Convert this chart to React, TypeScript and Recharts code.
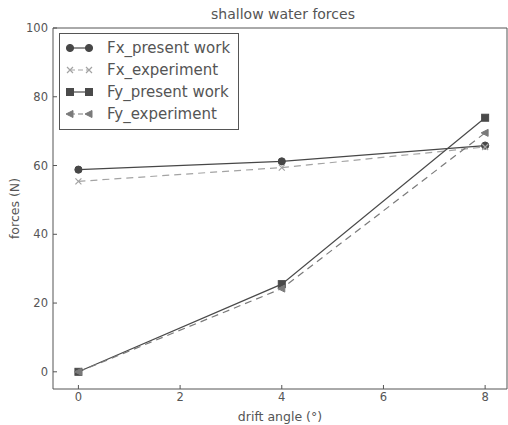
import { LineChart, Line, XAxis, YAxis, Legend } from "recharts";

// drift angle (deg) and forces (N)
const ANGLES = [0, 4, 8];
const FX_PRESENT = [58.8, 61.2, 65.8];
const FX_EXPERIMENT = [55.4, 59.4, 65.4];
const FY_PRESENT = [0, 25.5, 73.9];
const FY_EXPERIMENT = [0, 24.2, 69.5];

const X_TICKS = [0, 2, 4, 6, 8];
const Y_TICKS = [0, 20, 40, 60, 80, 100];

const FONT = "'DejaVu Sans', Verdana, sans-serif";
const TEXT = "#555";
const FRAME = "#555";

type Shape = "circle" | "x" | "square" | "tri";

interface SeriesDef {
  key: string;
  name: string;
  color: string;
  dash?: string;
  shape: Shape;
}

const SERIES: SeriesDef[] = [
  { key: "fxPresent", name: "Fx_present work", color: "#474747", shape: "circle" },
  { key: "fxExperiment", name: "Fx_experiment", color: "#a3a3a3", dash: "7 5", shape: "x" },
  { key: "fyPresent", name: "Fy_present work", color: "#4a4a4a", shape: "square" },
  { key: "fyExperiment", name: "Fy_experiment", color: "#7a7a7a", dash: "7 5", shape: "tri" },
];

const data = ANGLES.map((a, i) => ({
  angle: a,
  fxPresent: FX_PRESENT[i],
  fxExperiment: FX_EXPERIMENT[i],
  fyPresent: FY_PRESENT[i],
  fyExperiment: FY_EXPERIMENT[i],
}));

function Marker({ shape, cx, cy, color }: { shape: Shape; cx: number; cy: number; color: string }) {
  switch (shape) {
    case "circle":
      return <circle cx={cx} cy={cy} r={3.6} fill={color} stroke={color} />;
    case "square":
      return <rect x={cx - 3.5} y={cy - 3.5} width={7} height={7} fill={color} stroke={color} />;
    case "x":
      return (
        <path
          d={`M${cx - 3},${cy - 3}L${cx + 3},${cy + 3}M${cx - 3},${cy + 3}L${cx + 3},${cy - 3}`}
          stroke={color}
          strokeWidth={1.2}
          fill="none"
        />
      );
    case "tri":
      return (
        <path
          d={`M${cx - 4},${cy}L${cx + 3},${cy - 3.5}L${cx + 3},${cy + 3.5}Z`}
          fill={color}
          stroke={color}
        />
      );
  }
}

const dotFor = (s: SeriesDef) => (p: any) =>
  p.cx == null || p.cy == null ? (
    <g key={`${s.key}-${p.index}`} />
  ) : (
    <g key={`${s.key}-${p.index}`}>
      <Marker shape={s.shape} cx={p.cx} cy={p.cy} color={s.color} />
    </g>
  );

// legend keeps the series order (recharts sorts the payload by name)
function LegendBox() {
  return (
    <div
      style={{
        border: `1px solid ${FRAME}`,
        background: "#fff",
        padding: "3px 8px 4px 6px",
        fontFamily: FONT,
        fontSize: 15,
        color: TEXT,
      }}
    >
      {SERIES.map((s) => (
        <div key={s.key} style={{ display: "flex", alignItems: "center", height: 22 }}>
          <svg width={28} height={12} style={{ marginRight: 13 }}>
            <line x1={4} y1={6} x2={23} y2={6} stroke={s.color} strokeWidth={1.2} strokeDasharray={s.dash ? "5 3" : undefined} />
            <Marker shape={s.shape} cx={4} cy={6} color={s.color} />
            <Marker shape={s.shape} cx={23} cy={6} color={s.color} />
          </svg>
          <span style={{ whiteSpace: "nowrap" }}>{s.name}</span>
        </div>
      ))}
    </div>
  );
}

function TitleLabel({ viewBox }: any) {
  const { x, y, width } = viewBox;
  return (
    <text x={x + width / 2 + 3} y={y - 12} textAnchor="middle" dominantBaseline="middle" fontFamily={FONT} fontSize={14} fill={TEXT}>
      shallow water forces
    </text>
  );
}

function XLabel({ viewBox }: any) {
  const { x, y, width } = viewBox;
  return (
    <text x={x + width / 2} y={y + 28} textAnchor="middle" dominantBaseline="middle" fontFamily={FONT} fontSize={12.5} fill={TEXT}>
      drift angle (°)
    </text>
  );
}

function YLabel({ viewBox }: any) {
  const { x, y, height } = viewBox;
  const cx = x + 2;
  const cy = y + height / 2;
  return (
    <text
      x={cx}
      y={cy}
      transform={`rotate(-90 ${cx} ${cy})`}
      textAnchor="middle"
      dominantBaseline="middle"
      fontFamily={FONT}
      fontSize={12.5}
      fill={TEXT}
    >
      forces (N)
    </text>
  );
}

const tickStyle = { fill: TEXT, fontSize: 11.5, fontFamily: FONT };

export default function App() {
  return (
    <div style={{ position: "absolute", left: 0, top: 0, width: 508, height: 425, background: "#fff" }}>
      <LineChart width={508} height={425} data={data} margin={{ top: 27, right: 0, bottom: 0, left: 13 }}>
        <XAxis
          dataKey="angle"
          type="number"
          domain={[-0.5, 8.43]}
          ticks={X_TICKS}
          height={36}
          tickSize={-4}
          tickMargin={8}
          tick={tickStyle}
          stroke={FRAME}
          label={<XLabel />}
        />
        <XAxis
          xAxisId="top"
          dataKey="angle"
          type="number"
          orientation="top"
          domain={[-0.5, 8.43]}
          ticks={X_TICKS}
          height={1}
          tickSize={-4}
          tick={false}
          stroke={FRAME}
          label={<TitleLabel />}
        />
        <YAxis
          type="number"
          domain={[-5, 100]}
          ticks={Y_TICKS}
          width={40}
          tickSize={-4}
          tickMargin={9}
          tick={tickStyle}
          stroke={FRAME}
          label={<YLabel />}
        />
        <YAxis
          yAxisId="right"
          type="number"
          orientation="right"
          domain={[-5, 100]}
          ticks={Y_TICKS}
          width={1}
          tickSize={-4}
          tick={false}
          stroke={FRAME}
        />
        <Legend
          layout="horizontal"
          verticalAlign="middle"
          align="center"
          wrapperStyle={{ left: 59, top: 33, width: "auto", height: "auto" }}
          content={<LegendBox />}
        />
        {SERIES.map((s) => (
          <Line
            key={s.key}
            dataKey={s.key}
            name={s.name}
            type="linear"
            stroke={s.color}
            strokeWidth={1.2}
            strokeDasharray={s.dash}
            dot={dotFor(s)}
            activeDot={false}
            isAnimationActive={false}
          />
        ))}
      </LineChart>
    </div>
  );
}
